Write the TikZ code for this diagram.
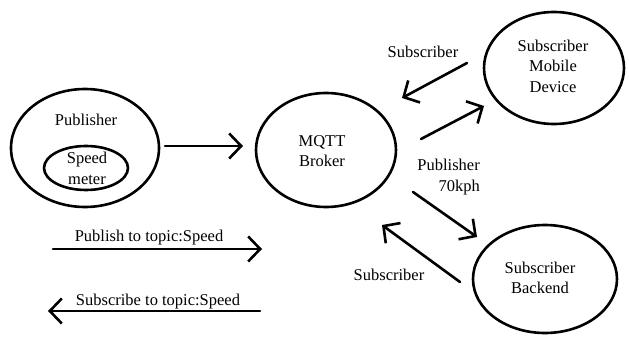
\documentclass[tikz,border=0pt]{standalone}
\usepackage{fontspec}
\setmainfont{Liberation Serif}
\usetikzlibrary{arrows.meta}
\begin{document}
\begin{tikzpicture}[x=1pt,y=-1pt,
  outline/.style={draw=black,line width=2.6pt},
  lbl/.style={inner sep=0pt,font=\fontsize{16.5}{20.5}\selectfont,align=center},
  flow/.style={line width=2.6pt,line cap=round,-{Straight Barb[length=12pt,width=25pt,line width=2.6pt]}}]
  \useasboundingbox[fill=white] (0,0) rectangle (629,337);

  % publisher with its speed meter
  \draw[outline] (85,148) ellipse [x radius=74, y radius=59];
  \draw[outline] (86,168) ellipse [x radius=42, y radius=22];
  \node[lbl] (pub) at (86,120) {Publisher};
  \node[lbl] (speed) at (87,160) {Speed};
  \node[lbl] (meter) at (87,180) {meter};

  % broker and the two subscribers
  \draw[outline] (326,150) ellipse [x radius=70, y radius=57];
  \node[lbl] (broker) at (322,151) {MQTT\\Broker};
  \draw[outline] (554,68) ellipse [x radius=70, y radius=56];
  \node[lbl] (mobile) at (553,66) {Subscriber\\Mobile\\Device};
  \draw[outline] (545,279) ellipse [x radius=72, y radius=54];
  \node[lbl] (backend) at (540,278) {Subscriber\\Backend};

  % message labels
  \node[lbl] (subtop) at (423,52) {Subscriber};
  \node[lbl,align=right,anchor=east] (pubspeed) at (480,177) {Publisher\\70kph};
  \node[lbl] (subbot) at (389,275) {Subscriber};
  \node[lbl] (legpub) at (149,238) {Publish to topic:Speed};
  \node[lbl] (legsub) at (158,302) {Subscribe to topic:Speed};

  % arrow end points
  \coordinate (a1) at (165,146);  \coordinate (b1) at (243,146);
  \coordinate (a2) at (467,63);   \coordinate (b2) at (402,98);
  \coordinate (a3) at (421,139);  \coordinate (b3) at (484,106);
  \coordinate (a4) at (413,192);  \coordinate (b4) at (477,237);
  \coordinate (a5) at (460,282);  \coordinate (b5) at (382,225);
  \coordinate (a6) at (53,249);   \coordinate (b6) at (262,249);
  \coordinate (a7) at (260,311);  \coordinate (b7) at (48,311);

  \draw[flow] (a1) -- (b1);
  \draw[flow] (a2) -- (b2);
  \draw[flow] (a3) -- (b3);
  \draw[flow] (a4) -- (b4);
  \draw[flow] (a5) -- (b5);
  \draw[flow] (a6) -- (b6);
  \draw[flow] (a7) -- (b7);
\end{tikzpicture}
\end{document}
